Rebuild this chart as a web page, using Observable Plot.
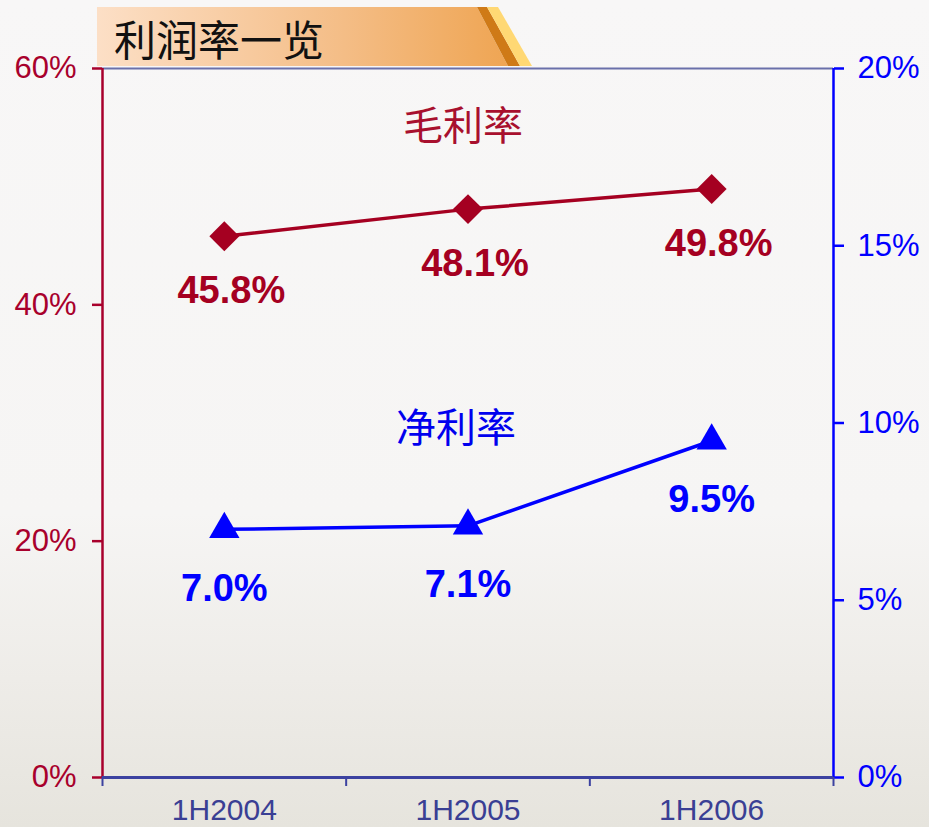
<!DOCTYPE html>
<html><head><meta charset="utf-8">
<script src="https://cdn.jsdelivr.net/npm/d3@7"></script>
<script src="https://cdn.jsdelivr.net/npm/@observablehq/plot@0.6"></script>
<style>
html,body{margin:0;padding:0;}
body{width:929px;height:827px;overflow:hidden;background:linear-gradient(#f8f7f7 0%, #f6f5f4 62%, #eeece8 82%, #e6e4dd 100%);}
#wrap{position:relative;width:929px;height:827px;}
#chart{position:absolute;left:0;top:0;}
#banner{position:absolute;left:0;top:0;}
</style></head><body>
<div id="wrap"><div id="chart"></div>
<svg id="banner" width="929" height="70" xmlns="http://www.w3.org/2000/svg">
<defs><linearGradient id="bg" x1="0" x2="1" y1="0" y2="0">
<stop offset="0" stop-color="#fcdfc6"/><stop offset="0.6" stop-color="#f4bd86"/><stop offset="1" stop-color="#efa553"/>
</linearGradient></defs>
<polygon points="97,7 477,7 508,66 97,66" fill="url(#bg)"/>
<polygon points="477,7 487,7 520,66 508,66" fill="#cf7a17"/>
<polygon points="487,7 498,7 532,66 520,66" fill="#ffd874"/>
<text id="title" x="114" y="37" dominant-baseline="central" font-family="Noto Sans CJK SC" font-size="42" fill="#111">利润率一览</text>
</svg>
</div>
<script>
const categories = ["1H2004", "1H2005", "1H2006"];
const grossMargin = [45.8, 48.1, 49.8];
const netMargin = [7.0, 7.1, 9.5];
const leftTicks = [0, 20, 40, 60];
const rightTicks = [0, 5, 10, 15, 20];
const seriesNames = ["毛利率", "净利率"];
const ratio = 60 / 20; // left axis max / right axis max

const red = "#a50021", blue = "#0000ff", axisBlue = "#3c42a0";
const gross = categories.map((c, i) => ({i: i + 0.5, v: grossMargin[i], label: grossMargin[i].toFixed(1) + "%"}));
const net = categories.map((c, i) => ({i: i + 0.5, v: netMargin[i] * ratio, label: netMargin[i].toFixed(1) + "%"}));

const chart = Plot.plot({
  width: 929, height: 827,
  marginLeft: 102, marginRight: 96, marginTop: 68, marginBottom: 50,
  x: {domain: [0, 3], axis: null},
  y: {domain: [0, 60], axis: null},
  style: {background: "transparent", fontFamily: "Liberation Sans, Arial, sans-serif", overflow: "visible"},
  marks: [
    Plot.ruleY([60], {stroke: "#6a70aa", strokeWidth: 2}),
    Plot.axisY(leftTicks, {anchor: "left", tickSize: 10, tickPadding: 16, color: "#a8002c", fontSize: 31, strokeWidth: 2.5, tickFormat: d => d + "%", label: null}),
    Plot.axisY(rightTicks.map(d => d * ratio), {anchor: "right", tickSize: 10, tickPadding: 14, color: blue, fontSize: 31, strokeWidth: 2.5, tickFormat: d => Math.round(d / ratio) + "%", label: null}),
    Plot.axisX([0, 1, 2, 3], {anchor: "bottom", tickSize: 9, color: axisBlue, strokeWidth: 2, tickFormat: () => "", label: null}),
    Plot.axisX(categories.map((c, i) => i + 0.5), {anchor: "bottom", tickSize: 0, tickPadding: 21, color: "#3a3f94", fontSize: 30, tickFormat: d => categories[Math.round(d - 0.5)], label: null}),
    Plot.ruleX([0], {stroke: "#a8002c", strokeWidth: 2.5}),
    Plot.ruleX([3], {stroke: blue, strokeWidth: 2.5}),
    Plot.ruleY([0], {stroke: axisBlue, strokeWidth: 3}),
    Plot.line(gross, {x: "i", y: "v", stroke: red, strokeWidth: 3.5}),
    Plot.dot(gross, {x: "i", y: "v", symbol: "diamond2", r: 13.5, fill: red, stroke: "none"}),
    Plot.line(net, {x: "i", y: "v", stroke: blue, strokeWidth: 3.5}),
    Plot.dot(net, {x: "i", y: "v", symbol: "triangle2", r: 14.5, fill: blue, stroke: "none"}),
    Plot.text(gross, {x: "i", y: "v", text: "label", dx: 7, dy: 55, fill: red, fontSize: 38, fontWeight: "bold"}),
    Plot.text(net, {x: "i", y: "v", text: "label", dx: 0, dy: 59, fill: blue, fontSize: 38, fontWeight: "bold"}),
    Plot.text([seriesNames[0]], {text: d => d, frameAnchor: "top", dx: -5, dy: 43, fill: "#a8102e", fontSize: 40, fontFamily: "Noto Sans CJK SC"}),
    Plot.text([seriesNames[1]], {text: d => d, frameAnchor: "middle", dx: -12, dy: 6, fill: "#0000ee", fontSize: 40, fontFamily: "Noto Sans CJK SC"})
  ]
});
document.getElementById("chart").appendChild(chart);
</script>
</body></html>
